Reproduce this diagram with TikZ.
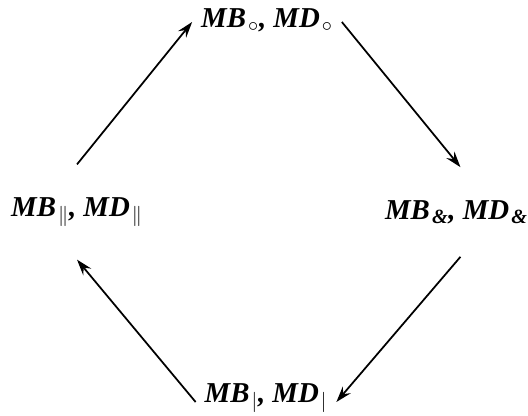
\documentclass[tikz,border=0pt]{standalone}
\usepackage{fontspec}
\setmainfont{Liberation Serif}
\usetikzlibrary{arrows.meta}
\tikzset{
  pair/.style={font=\fontsize{20.5}{24}\selectfont\bfseries\itshape,inner sep=2pt},
  flow/.style={-{Stealth[length=4mm,width=2.6mm,inset=1.4mm]},line width=1.25pt,draw=black}
}
\newcommand{\mbmd}[1]{MB\kern1.5pt\textsubscript{#1}, MD\kern1.5pt\textsubscript{#1}}

\begin{document}
\begin{tikzpicture}
\useasboundingbox (0,0) rectangle (13.2,-10.4);

\node[pair] (mbt) at (6.675,-0.5) {\mbmd{$\circ$}};
\node[pair] (mbl) at (1.925,-5.3) {\mbmd{$\|$}};
\node[pair,anchor=west] (mbr) at (9.55,-5.3) {\mbmd{\&}};
\node[pair] (mbb) at (6.65,-9.95) {\mbmd{$|$}};

\draw[flow] ([yshift=0.75cm]mbl.north) -- ([xshift=-0.15cm,yshift=-0.05cm]mbt.west);
\draw[flow] ([xshift=0.15cm,yshift=-0.05cm]mbt.east) -- ([xshift=0.1cm,yshift=0.75cm]mbr.north);
\draw[flow] ([xshift=0.1cm,yshift=-0.75cm]mbr.south) -- ([xshift=0.15cm,yshift=-0.1cm]mbb.east);
\draw[flow] ([xshift=-0.15cm,yshift=-0.1cm]mbb.west) -- ([yshift=-0.75cm]mbl.south);
\end{tikzpicture}
\end{document}
